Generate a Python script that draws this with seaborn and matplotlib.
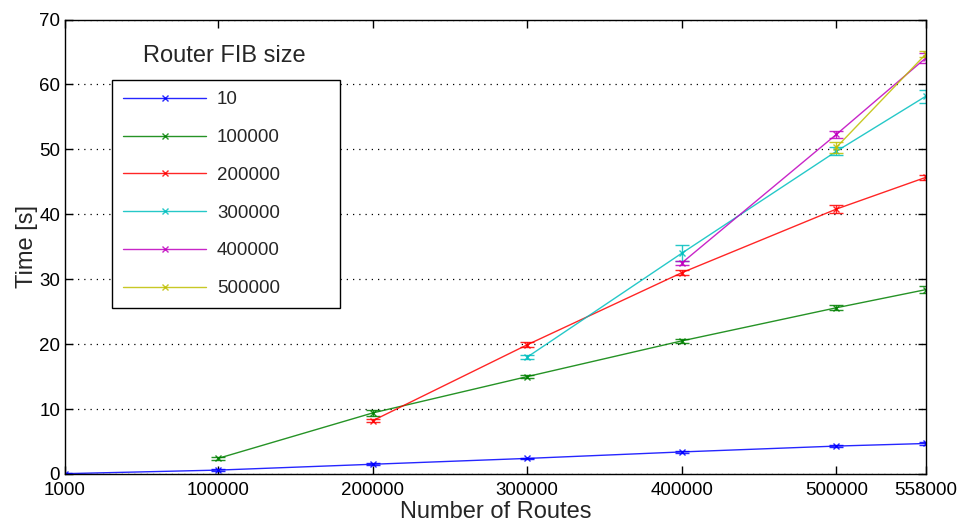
import numpy as np
import pandas as pd
import matplotlib
matplotlib.use('Agg')
import matplotlib.pyplot as plt
import seaborn as sns

# Routes on the x axis
routes = [1000, 100000, 200000, 300000, 400000, 500000, 558000]
fib_sizes = ["10", "100000", "200000", "300000", "400000", "500000"]

# Time [s] per FIB size (series start at its own FIB size)
t_10 = [0.05, 0.6, 1.5, 2.4, 3.4, 4.3, 4.7]
t_100000 = [2.4, 9.4, 15.0, 20.5, 25.6, 28.4]
t_200000 = [8.2, 19.9, 31.0, 40.8, 45.7]
t_300000 = [18.0, 34.0, 49.7, 58.2]
t_400000 = [32.5, 52.3, 64.1]
t_500000 = [50.3, 64.7]

# error bar half widths
e_10 = [0.05, 0.15, 0.15, 0.1, 0.1, 0.2, 0.2]
e_100000 = [0.2, 0.4, 0.2, 0.3, 0.4, 0.5]
e_200000 = [0.2, 0.4, 0.4, 0.6, 0.4]
e_300000 = [0.3, 1.2, 0.6, 1.0]
e_400000 = [0.3, 0.6, 0.8]
e_500000 = [0.8, 0.5]

times = [t_10, t_100000, t_200000, t_300000, t_400000, t_500000]
errs = [e_10, e_100000, e_200000, e_300000, e_400000, e_500000]
colors = ["#0000ff", "#008000", "#ff0000", "#00bfbf", "#bf00bf", "#bfbf00"]

rows = []
for name, t, e in zip(fib_sizes, times, errs):
    xs = routes[len(routes) - len(t):]
    for x, y, err in zip(xs, t, e):
        rows.append({"routes": x, "time": y, "err": err, "fib": name})
df = pd.DataFrame(rows)

sns.set_style("white")
plt.rcParams['font.family'] = ['Liberation Sans', 'DejaVu Sans']

fig = plt.figure(figsize=(9.6, 5.22), dpi=100)
ax = fig.add_axes([65 / 960, 48 / 522, 861 / 960, 454.5 / 522])

for name, c in zip(fib_sizes, colors):
    d = df[df["fib"] == name]
    sns.lineplot(data=d, x="routes", y="time", color=c, marker="x",
                 markersize=5, markeredgewidth=1, markeredgecolor=c,
                 linewidth=1, label=name, ax=ax, alpha=0.85)
    ax.errorbar(d["routes"], d["time"], yerr=d["err"], fmt="none",
                ecolor=c, elinewidth=1, capsize=5, capthick=1, alpha=0.85)

ax.set_xlim(1000, 558000)
ax.set_ylim(0, 70)
ax.set_xticks(routes)
ax.set_xticklabels([str(r) for r in routes])
ax.set_yticks(range(0, 71, 10))
ax.tick_params(direction="in", length=6, width=1, labelsize=13.5,
               top=True, right=True, bottom=True, left=True, colors="black")
ax.tick_params(axis="x", pad=6)
ax.yaxis.grid(True, linestyle=(0, (1, 4)), color="black", linewidth=0.9)
ax.xaxis.grid(False)
for s in ax.spines.values():
    s.set_color("black")
    s.set_linewidth(1)

ax.set_xlabel("Number of Routes", fontsize=17, labelpad=1)
ax.set_ylabel("Time [s]", fontsize=17, labelpad=1)

leg = ax.legend(loc="upper left", bbox_to_anchor=(0.0546, 0.767, 228 / 861, 0.1),
                mode="expand", fontsize=13.5, frameon=True, fancybox=False,
                edgecolor="black", framealpha=1, handlelength=4.4,
                handletextpad=0.6, labelspacing=1.1, borderpad=0.6,
                borderaxespad=0)
leg.get_frame().set_linewidth(1)
ax.text(0.185, 0.92, "Router FIB size", transform=ax.transAxes,
        ha="center", va="center", fontsize=17)

fig.savefig("out.png", dpi=100)
